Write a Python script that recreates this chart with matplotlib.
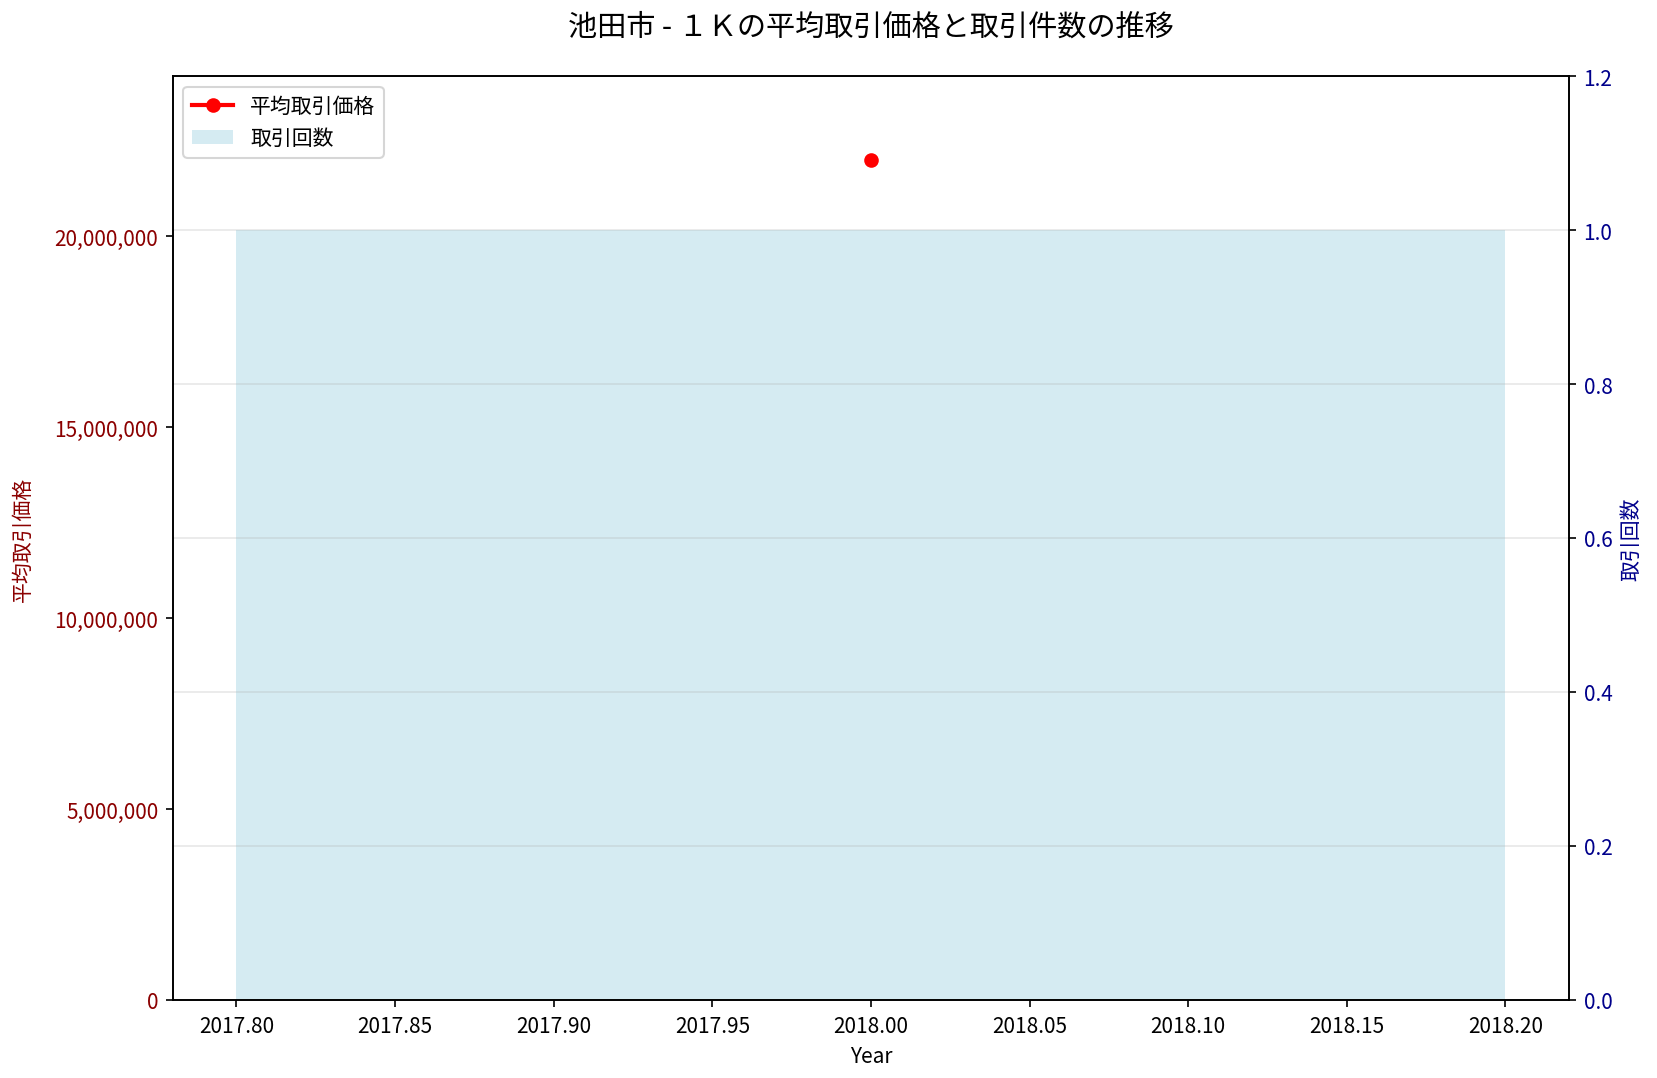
import numpy as np
import matplotlib
matplotlib.use("Agg")
import matplotlib.pyplot as plt
from matplotlib.ticker import FuncFormatter

plt.rcParams['font.family'] = ['Noto Sans CJK JP', 'DejaVu Sans']

# Data
years = [2018]
avg_price = [22000000]
counts = [1]


def plot_trend():
    fig = plt.figure(figsize=(11.053, 7.193), dpi=150)
    ax1 = fig.add_axes([0.1043, 0.0723, 0.842, 0.8563])
    ax2 = ax1.twinx()

    # Bars for transaction count (right axis)
    ax2.bar(years, counts, width=0.4, color='lightblue', alpha=0.5,
            label='取引回数')
    ax2.set_ylim(0, max(counts) * 1.2)
    ax2.set_ylabel('取引回数', color='darkblue')
    ax2.tick_params(axis='y', labelcolor='darkblue')
    ax2.grid(True, axis='y', alpha=0.3)

    # Average price line (left axis)
    ax1.plot(years, avg_price, 'o-', color='red', linewidth=2,
             label='平均取引価格')
    ax1.set_ylim(0, max(avg_price) * 1.1)
    ax1.set_ylabel('平均取引価格', color='darkred', labelpad=10)
    ax1.tick_params(axis='y', labelcolor='darkred')
    ax1.yaxis.set_major_formatter(FuncFormatter(lambda v, p: f'{int(v):,}'))
    ax1.set_xlabel('Year')
    ax1.set_zorder(ax2.get_zorder() + 1)
    ax1.patch.set_visible(False)

    h1, l1 = ax1.get_legend_handles_labels()
    h2, l2 = ax2.get_legend_handles_labels()
    ax1.legend(h1 + h2, l1 + l2, loc='upper left')

    ax1.set_title('池田市 - １Ｋの平均取引価格と取引件数の推移', fontsize=14, pad=20)

    fig.savefig('out.png', dpi=150)


if __name__ == "__main__":
    plot_trend()
